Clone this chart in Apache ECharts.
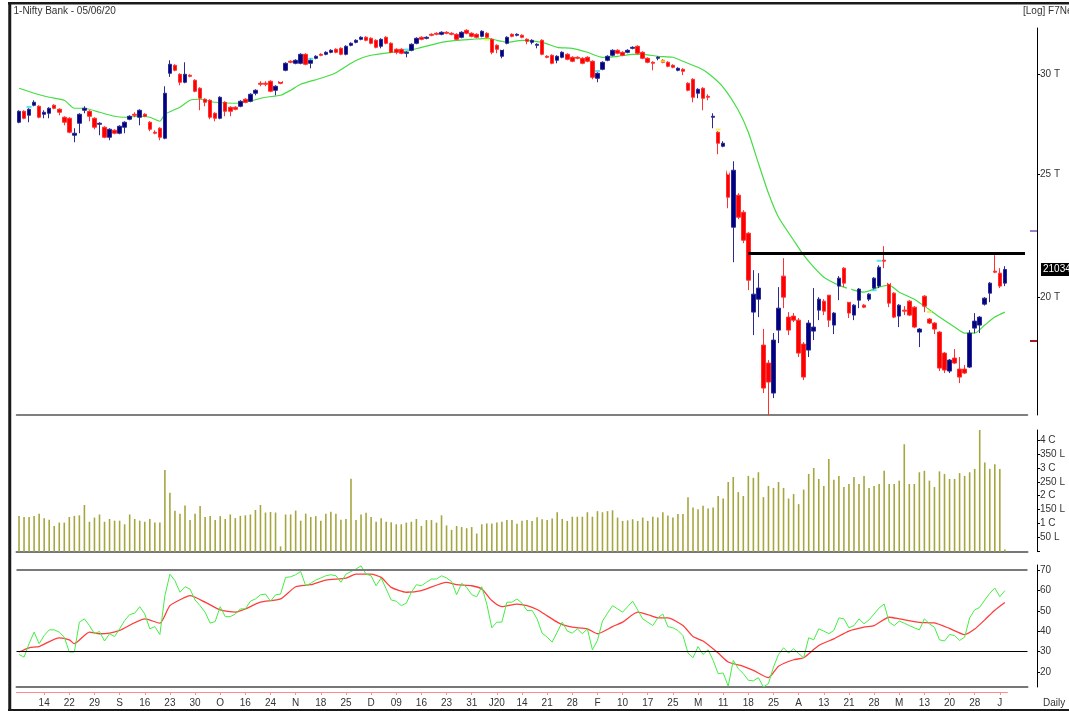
<!DOCTYPE html>
<html>
<head>
<meta charset="utf-8">
<script src="https://cdn.jsdelivr.net/npm/echarts@6/dist/echarts.min.js"></script>
<style>
  html, body { margin: 0; padding: 0; background: #fff; }
  #chart { width: 1069px; height: 711px; }
</style>
</head>
<body>
<div id="chart"></div>
<script>
// daily bars, Aug 2019 .. 05 Jun 2020
const open = [
  27493, 28048, 27845, 28356, 28304, 27895, 27946, 28356, 28150, 27744,
  27693, 26851, 27443, 28099, 28048, 27693, 27393, 27244, 26753, 27096,
  26949, 27244, 27643, 27895, 27744, 27895, 27493, 26998, 27195, 26705,
  30055, 30495, 30000, 29567, 29946, 29675, 29246, 28667, 28615, 27946,
  27693, 28511, 28253, 28253, 28304, 28667, 28563, 28982, 29513, 29513,
  29621, 29140, 29621, 30219, 30718, 30606, 30606, 31111, 30606, 30886,
  31111, 31111, 31224, 31395, 31452, 31111, 31624, 31797, 31971, 32088,
  32029, 31913, 31567, 32088, 31739, 31395, 31395, 31168, 31338, 31739,
  32088, 32029, 32263, 32322, 32263, 32381, 32322, 32263, 32088, 32499,
  32322, 32263, 32146, 32322, 31971, 31624, 30998, 31739, 32263, 32205,
  32205, 31971, 31797, 31624, 31913, 30998, 31055, 30774, 30942, 31111,
  30942, 30942, 30886, 30942, 30718, 29783, 30274, 30774, 31055, 31338,
  31224, 31224, 31452, 31567, 31224, 30886, 30662, 30886, 30774, 30662,
  30495, 30219, 30274, 29513, 29729, 28982, 29246, 28824, 27744, 26998,
  26319, 25195, 22715, 24076, 23343, 22468, 19464, 19928, 18331, 17741,
  16799, 18837, 20780, 19288, 19323, 19182, 18364, 18165, 18803, 19534,
  19856, 20073, 19010, 20407, 21084, 19820, 19358, 19892, 19712, 19928,
  20333, 20407, 21392, 20518, 20147, 19323, 19534, 19856, 19641, 18769,
  20037, 19218, 19079, 18769, 18066, 17485, 17903, 17548, 17548, 17612,
  18906, 19010, 19748, 20147, 20969, 20893, 20518
];
const close = [
  28048, 27693, 28150, 28511, 27744, 27997, 28202, 28202, 27997, 27493,
  26998, 26949, 27895, 28202, 27794, 27244, 27443, 26753, 27145, 26949,
  27294, 27493, 27794, 27845, 28099, 27794, 27145, 26949, 26753, 28982,
  30551, 30219, 29567, 30000, 29891, 29087, 28719, 28511, 27744, 27693,
  28771, 28048, 28048, 28150, 28563, 28511, 28929, 29140, 29460, 29460,
  29087, 29353, 29513, 30606, 30662, 30774, 31111, 30551, 30774, 30998,
  31055, 31224, 31338, 31224, 31111, 31567, 31739, 31913, 32088, 31913,
  31739, 31509, 31971, 31739, 31224, 31224, 31168, 31224, 31682, 32029,
  31971, 32088, 32205, 32263, 32381, 32322, 32263, 31971, 32381, 32322,
  32146, 32088, 32440, 32088, 31224, 31395, 31395, 32088, 32146, 32263,
  32088, 31855, 31913, 31682, 31111, 30942, 30606, 30998, 31224, 30830,
  30718, 30886, 30606, 30718, 29837, 30055, 30662, 30998, 31338, 31168,
  31055, 31338, 31509, 31168, 30886, 30662, 30606, 30942, 30662, 30440,
  30384, 30329, 30164, 29140, 28771, 29193, 28719, 28771, 27794, 26463,
  26463, 23988, 25195, 23131, 22184, 20629, 20110, 20333, 16952, 17138,
  18498, 19605, 20000, 18837, 19182, 18066, 17295, 19079, 18941, 19928,
  19499, 19182, 19429, 20705, 20518, 19429, 19712, 20296, 19641, 20110,
  20705, 21122, 21353, 19784, 19288, 19712, 19499, 19358, 18941, 18872,
  19677, 19079, 18872, 17580, 17517, 17838, 17741, 17295, 17422, 18735,
  19148, 19288, 19964, 20518, 20931, 20407, 21034
];
const high = [
  28099, 28099, 28202, 28615, 28356, 28099, 28253, 28407, 28202, 27794,
  27744, 27195, 27946, 28304, 28099, 27744, 27493, 27294, 27195, 27145,
  27343, 27543, 27845, 27997, 28150, 27946, 27543, 27096, 27244, 29353,
  30774, 30551, 30055, 30662, 30000, 29729, 29299, 28719, 28667, 27997,
  28824, 28563, 28304, 28304, 28615, 28719, 28982, 29193, 29621, 29621,
  29675, 29406, 29675, 30662, 30774, 30830, 31168, 31168, 30886, 31055,
  31168, 31281, 31395, 31452, 31509, 31624, 31797, 31971, 32146, 32146,
  32088, 31971, 32029, 32146, 31797, 31452, 31452, 31281, 31739, 32088,
  32146, 32146, 32322, 32381, 32440, 32440, 32381, 32322, 32440, 32558,
  32381, 32322, 32499, 32381, 32029, 31682, 31452, 32146, 32322, 32322,
  32263, 32029, 31971, 31739, 31971, 31055, 31111, 31055, 31281, 31168,
  30998, 30998, 30942, 30998, 30774, 30109, 30718, 31055, 31395, 31395,
  31281, 31395, 31567, 31624, 31281, 30942, 30718, 30998, 30830, 30718,
  30551, 30384, 30329, 29567, 29783, 29246, 29299, 28929, 27946, 27047,
  26559, 25287, 25611, 24163, 23428, 22509, 21007, 20893, 18906, 17838,
  18735, 20370, 21470, 19464, 19429, 19253, 18431, 19182, 20333, 20000,
  19928, 20073, 19464, 20780, 21122, 19892, 19748, 20333, 19748, 20147,
  20741, 21198, 21944, 20555, 20183, 19748, 19677, 19892, 19677, 18906,
  20073, 19253, 19113, 18803, 18099, 17871, 18198, 17936, 17677, 18837,
  19429, 19323, 20000, 20555, 21587, 21084, 21160
];
const low = [
  27443, 27643, 27493, 28304, 27693, 27693, 27693, 28150, 27845, 27343,
  26949, 26511, 26949, 27946, 27543, 27145, 26851, 26705, 26608, 26900,
  26900, 26949, 27593, 27744, 27343, 27744, 27047, 26900, 26608, 26656,
  29783, 30164, 29406, 29513, 29837, 29034, 28099, 28304, 27643, 27543,
  27643, 27794, 27794, 28099, 28253, 28459, 28511, 28876, 29353, 29353,
  29034, 28876, 29460, 30164, 30606, 30551, 30551, 30495, 30329, 30830,
  30998, 31055, 31168, 31168, 31055, 31055, 31567, 31739, 31913, 31855,
  31682, 31452, 31452, 31682, 31168, 31111, 31111, 30942, 31281, 31682,
  31913, 31971, 32146, 32205, 32205, 32263, 32205, 31913, 32029, 32263,
  32088, 32029, 32088, 32029, 31111, 31168, 30886, 31682, 32088, 32146,
  32029, 31682, 31682, 31452, 31055, 30886, 30551, 30606, 30886, 30774,
  30662, 30830, 30551, 30662, 29729, 29567, 30219, 30718, 30998, 31111,
  30998, 31168, 31395, 31111, 30830, 30606, 30219, 30774, 30606, 30384,
  30329, 30164, 29946, 29087, 28511, 28719, 28099, 28615, 27195, 25938,
  26271, 23513, 21314, 23047, 22066, 20257, 18667, 19288, 16799, 16142,
  16647, 18397, 19605, 18667, 19113, 17936, 17201, 17936, 18498, 19182,
  19358, 18941, 18701, 19892, 20370, 19253, 19182, 19605, 19605, 19856,
  20257, 20333, 21084, 19641, 19253, 18941, 19358, 19323, 18906, 18264,
  19464, 19044, 18701, 17485, 17422, 17422, 17709, 17107, 17390, 17580,
  18735, 18735, 19605, 19820, 20893, 20333, 20407
];
// volume in lakh shares
const volume = [
  128, 124, 124, 128, 136, 120, 114, 92, 104, 104,
  124, 128, 130, 167, 107, 122, 133, 107, 117, 111,
  111, 98, 133, 117, 111, 107, 117, 104, 104, 292,
  211, 146, 136, 165, 113, 136, 163, 124, 128, 113,
  127, 117, 133, 120, 128, 130, 133, 149, 167, 140,
  142, 140, 19, 133, 133, 147, 111, 136, 124, 127,
  111, 136, 143, 136, 114, 117, 261, 113, 133, 139,
  124, 107, 120, 107, 105, 98, 98, 104, 107, 117,
  92, 113, 113, 104, 130, 94, 78, 92, 88, 84,
  88, 65, 98, 101, 101, 104, 107, 113, 113, 100,
  111, 113, 110, 123, 116, 113, 119, 141, 117, 110,
  125, 125, 125, 141, 125, 145, 141, 145, 148, 122,
  110, 112, 116, 110, 122, 110, 125, 122, 141, 129,
  122, 135, 135, 195, 158, 152, 164, 154, 158, 199,
  190, 249, 267, 213, 199, 271, 264, 284, 195, 235,
  228, 249, 228, 190, 206, 170, 222, 278, 299, 260,
  235, 331, 257, 271, 231, 242, 267, 242, 271, 228,
  235, 242, 289, 242, 242, 254, 384, 242, 242, 284,
  289, 254, 231, 287, 278, 260, 260, 281, 271, 284,
  296, 435, 319, 296, 313, 296, 8
];
const rsi = [
  28.5, 27.2, 33.8, 39.5, 33.8, 37.8, 40.6, 40.6, 39.5, 37.0,
  29.7, 29.7, 44.4, 46.0, 42.7, 38.7, 39.8, 35.1, 38.7, 37.3,
  41.1, 45.2, 48.1, 48.8, 52.0, 48.4, 41.1, 42.2, 38.3, 57.4,
  68.0, 64.8, 59.1, 61.8, 60.7, 55.3, 52.5, 49.3, 43.9, 44.7,
  52.0, 47.1, 47.1, 48.4, 50.9, 50.9, 54.7, 55.8, 57.8, 58.2,
  54.7, 57.8, 58.2, 66.4, 66.7, 67.7, 69.3, 62.3, 63.5, 65.1,
  66.1, 67.2, 67.7, 67.2, 64.0, 68.0, 69.3, 70.5, 72.1, 68.0,
  67.2, 62.3, 66.1, 60.7, 55.3, 54.7, 52.5, 53.7, 59.1, 62.8,
  62.3, 64.0, 65.6, 65.6, 67.2, 66.1, 64.4, 57.9, 63.5, 61.5,
  57.9, 56.9, 61.8, 53.3, 41.6, 44.4, 44.4, 54.2, 54.2, 55.8,
  53.7, 50.1, 50.2, 46.0, 39.0, 37.0, 34.6, 39.5, 44.4, 40.0,
  39.0, 41.1, 38.7, 41.1, 30.8, 35.4, 44.9, 48.8, 52.5, 50.9,
  49.3, 52.0, 54.7, 50.4, 46.0, 44.4, 42.7, 46.5, 48.4, 42.2,
  41.6, 40.3, 37.8, 29.2, 26.9, 32.4, 28.5, 30.8, 25.6, 19.1,
  19.4, 12.9, 25.6, 21.5, 19.1, 15.8, 15.5, 17.1, 12.5, 14.2,
  22.3, 28.5, 31.8, 29.2, 31.3, 28.9, 26.9, 36.7, 35.7, 41.1,
  40.0, 38.7, 40.3, 46.5, 46.0, 41.6, 42.7, 46.0, 43.6, 45.5,
  48.4, 51.4, 53.3, 44.4, 42.7, 44.9, 43.9, 42.7, 41.6, 40.6,
  46.0, 43.6, 41.9, 35.7, 35.1, 38.3, 37.8, 35.4, 37.0, 46.5,
  50.4, 51.7, 55.3, 58.6, 61.2, 56.9, 59.9
];
// [bar index, value] points
const movingAvg = [
  [0, 29246], [3, 28982], [6, 28771], [9, 28615], [11, 28202], [13, 28202],
  [16, 27997], [19, 27794], [21, 27744], [24, 27794], [26, 27744], [28, 27543],
  [29, 27895], [32, 28253], [34, 28615], [36, 28667], [39, 28511], [43, 28459],
  [45, 28511], [49, 28771], [52, 28876], [54, 29140], [56, 29460], [60, 29783],
  [63, 30080], [66, 30606], [68, 30886], [70, 31055], [74, 31224], [77, 31281],
  [80, 31509], [84, 31797], [87, 31913], [90, 31971], [93, 32029], [95, 31913],
  [97, 31797], [100, 31913], [104, 31797], [107, 31509], [110, 31452], [113, 31224],
  [116, 30942], [119, 30998], [122, 31111], [124, 31111], [127, 30998], [130, 30942],
  [132, 30718], [135, 30384], [137, 30055], [140, 29299], [143, 28100], [145, 26998],
  [147, 25518], [149, 24163], [151, 23131], [154, 22184], [156, 21587], [158, 21122],
  [160, 20741], [163, 20444], [166, 20257], [168, 20183], [171, 20370], [173, 20444],
  [175, 20183], [178, 19928], [180, 19677], [183, 19288], [186, 18941], [188, 18735],
  [190, 18735], [192, 19010], [194, 19288], [196, 19464]
];
const rsiSignal = [
  [0, 29.7], [2, 31.8], [4, 32.4], [8, 36.7], [10, 35.7], [11, 33.8], [14, 39.5],
  [16, 38.7], [18, 39.0], [20, 40.3], [25, 46.0], [28, 43.9], [30, 52.5], [33, 56.6],
  [34, 57.4], [37, 54.2], [40, 50.4], [43, 49.3], [45, 50.9], [48, 54.2], [52, 55.8],
  [55, 61.8], [58, 62.8], [61, 65.1], [65, 66.1], [67, 68.0], [70, 68.0], [72, 66.4],
  [74, 61.5], [77, 59.1], [80, 59.9], [85, 64.0], [87, 62.8], [90, 62.3], [92, 60.7],
  [94, 55.0], [96, 52.0], [99, 53.3], [101, 52.5], [103, 50.6], [105, 47.5], [107, 44.4],
  [108, 43.2], [110, 41.9], [113, 41.1], [115, 38.7], [118, 42.2], [120, 44.4], [123, 49.3],
  [125, 48.1], [127, 46.5], [129, 46.5], [132, 42.7], [134, 37.3], [136, 35.1], [139, 29.2],
  [141, 24.8], [144, 22.7], [146, 20.7], [149, 17.1], [151, 22.7], [154, 25.9], [156, 26.9],
  [159, 32.9], [162, 36.2], [165, 40.0], [168, 41.9], [170, 42.7], [173, 46.8], [175, 46.0],
  [179, 44.3], [182, 44.0], [185, 41.3], [188, 38.3], [190, 41.0], [192, 45.5], [194, 50.3],
  [196, 54.1]
];
const tickLabels = ['14', '22', '29', 'S', '16', '23', '30', 'O', '16', '24', 'N', '18', '25',
  'D', '09', '16', '23', '31', 'J20', '14', '21', '28', 'F', '10', '17', '25', 'M', '11',
  '18', '25', 'A', '13', '21', '28', 'M', '13', '20', '28', 'J'];
// pattern markers: [bar index, price, width, height]
const cyanRings = [[30, 29640, 4, 6], [52, 29800, 4, 6], [96, 31585, 4, 6], [162, 19650, 4, 7],
  [180, 19190, 4, 10], [192, 19530, 4, 7], [194, 20730, 3, 5]];
const cyanDashes = [[2, 28270, 5, 2], [58, 30860, 5, 2], [77, 31380, 5, 2], [115, 30180, 5, 2],
  [170, 20257, 5, 2], [171, 21370, 5, 2]];
const yellowRings = [[132, 29710, 3, 6], [138, 28300, 3, 7], [141, 25600, 4, 22], [148, 19070, 3, 8],
  [165, 20140, 4, 14], [173, 20970, 4, 22]];
const yellowDashes = [[93, 31950, 5, 2], [128, 30720, 5, 2], [139, 27130, 5, 2], [181, 19470, 5, 2]];

const priceTicks = [20000, 25000, 30000];
const volumeTicks = [50, 100, 150, 200, 250, 300, 350, 400];
const rsiTicks = [20, 30, 40, 50, 60, 70];
const resistance = { from: 145, level: 21680 };
const axisMarks = [{ level: 22550, color: '#a27cc8' }, { level: 18460, color: '#a02020' }];

const FONT = 'Liberation Sans';
const TXT = '#333';
const nBars = close.length;
const nSlots = nBars + 4; // empty room right of the last bar
const slots = Array.from({ length: nSlots }, (_, i) => String(i));
const barCats = slots.slice(0, nBars);
const lastClose = close[nBars - 1];

const candles = open.map((o, i) => [o, close[i], low[i], high[i]]);

const G = { left: 16.5, right: 41.5, outerBoundsMode: 'none' };
const labelEvery = (i) => i >= 5 && (i - 5) % 5 === 0;

const chart = echarts.init(document.getElementById('chart'), null, { renderer: 'canvas' });

const hiddenX = (gridIndex, line) => ({
  type: 'category', gridIndex, data: slots, boundaryGap: true,
  axisLine: line ? { show: true, lineStyle: line } : { show: false },
  axisTick: { show: false }, axisLabel: { show: false }, splitLine: { show: false }
});

const priceAxisBase = {
  type: 'log', gridIndex: 0, position: 'right', offset: 9.5,
  min: 16142, max: 32635, logBase: 10, splitLine: { show: false }
};

const ringSeries = (data, color) => ({
  type: 'scatter', xAxisIndex: 0, yAxisIndex: 0, data, silent: true, z: 4,
  symbol: 'emptyCircle', symbolSize: (v) => [v[2], v[3]],
  itemStyle: { color: '#fff', borderColor: color, borderWidth: 1, opacity: 1 }
});
const dashSeries = (data, color) => ({
  type: 'scatter', xAxisIndex: 0, yAxisIndex: 0, data, silent: true, z: 4,
  symbol: 'rect', symbolSize: (v) => [v[2], v[3]],
  itemStyle: { color }
});

chart.setOption({
  animation: false,
  backgroundColor: '#fff',
  textStyle: { fontFamily: FONT },
  grid: [
    Object.assign({ top: 28, height: 387 }, G),
    Object.assign({ top: 430, height: 121.7 }, G),
    Object.assign({ top: 565, height: 122 }, G),
    { left: G.left, width: nBars * (1011 / nSlots), top: 691, height: 1, outerBoundsMode: 'none' }
  ],
  xAxis: [
    hiddenX(0, { color: '#555', width: 1.5 }),
    hiddenX(1, { color: '#777', width: 2 }),
    hiddenX(2, { color: '#777', width: 2 }),
    {
      type: 'category', gridIndex: 3, data: barCats, boundaryGap: true,
      axisLine: { show: true, lineStyle: { color: '#ff8c8c', width: 1 } },
      axisTick: { show: true, interval: labelEvery, alignWithLabel: true, length: 3,
        lineStyle: { color: '#ff8c8c' } },
      axisLabel: {
        show: true, interval: labelEvery, margin: 6, color: TXT, fontSize: 10, fontFamily: FONT,
        formatter: (v, i) => tickLabels[(i - 5) / 5] || ''
      },
      splitLine: { show: false }
    }
  ],
  yAxis: [
    Object.assign({}, priceAxisBase, {
      axisLine: { show: true, lineStyle: { color: '#000', width: 1 } },
      axisTick: { show: true, length: 3, customValues: priceTicks, lineStyle: { color: '#000' } },
      axisLabel: { show: true, customValues: priceTicks, margin: 3, color: TXT, fontSize: 10,
        fontFamily: FONT, formatter: (v) => Math.round(v / 1000) + ' T' }
    }),
    Object.assign({}, priceAxisBase, {
      axisLine: { show: false }, axisTick: { show: false },
      axisLabel: { show: true, customValues: [lastClose], margin: 4, color: '#fff',
        backgroundColor: '#000', padding: [2, 2, 1, 2], fontSize: 10, fontFamily: FONT,
        formatter: () => String(lastClose) }
    }),
    ...axisMarks.map((m) => Object.assign({}, priceAxisBase, {
      axisLine: { show: false }, axisLabel: { show: false },
      axisTick: { show: true, inside: true, length: 7, customValues: [m.level],
        lineStyle: { color: m.color, width: 2 } }
    })),
    {
      type: 'value', gridIndex: 1, position: 'right', offset: 9.5, min: 0, max: 435,
      splitLine: { show: false },
      axisLine: { show: true, lineStyle: { color: '#000', width: 1 } },
      axisTick: { show: true, length: 3, customValues: [0].concat(volumeTicks), lineStyle: { color: '#000' } },
      axisLabel: { show: true, customValues: volumeTicks, margin: 3, color: TXT, fontSize: 10,
        fontFamily: FONT, formatter: (v) => (v % 100 === 0 ? v / 100 + ' C' : v + ' L') }
    },
    {
      type: 'value', gridIndex: 2, position: 'right', offset: 9.5, min: 12.5, max: 72.5,
      splitLine: { show: false },
      axisLine: { show: true, lineStyle: { color: '#000', width: 1 } },
      axisTick: { show: true, length: 3, customValues: rsiTicks, lineStyle: { color: '#000' } },
      axisLabel: { show: true, customValues: rsiTicks, margin: 3, color: TXT, fontSize: 10, fontFamily: FONT }
    },
    { type: 'value', gridIndex: 3, show: false }
  ],
  series: [
    {
      name: 'Nifty Bank', type: 'candlestick', xAxisIndex: 0, yAxisIndex: 0,
      data: candles, barWidth: 4, z: 3,
      itemStyle: { color: '#000080', color0: '#ff0000', borderColor: '#2a2a90',
        borderColor0: '#ff3030', borderWidth: 1 },
      markLine: {
        silent: true, symbol: ['none', 'none'], label: { show: false },
        lineStyle: { color: '#000', width: 3, type: 'solid' },
        data: [[{ coord: [resistance.from, resistance.level] }, { coord: [nSlots - 1, resistance.level] }]]
      }
    },
    {
      name: 'MA', type: 'line', xAxisIndex: 0, yAxisIndex: 0, data: movingAvg,
      showSymbol: false, smooth: 0.2, z: 2, lineStyle: { color: '#44dd44', width: 1.2 }
    },
    ringSeries(cyanRings, '#33ddee'),
    dashSeries(cyanDashes, '#33ddee'),
    ringSeries(yellowRings, '#eeee33'),
    dashSeries(yellowDashes, '#eeee33'),
    {
      name: 'Volume', type: 'bar', xAxisIndex: 1, yAxisIndex: 4, data: volume,
      barWidth: 1.6, itemStyle: { color: '#a6a640' }
    },
    {
      name: 'RSI', type: 'line', xAxisIndex: 2, yAxisIndex: 5, data: rsi,
      showSymbol: false, z: 3, lineStyle: { color: '#44ee44', width: 1 },
      markLine: {
        silent: true, symbol: ['none', 'none'], label: { show: false },
        data: [
          { yAxis: 70, lineStyle: { color: '#7a7a7a', width: 2, type: 'solid' } },
          { yAxis: 30, lineStyle: { color: '#000', width: 1, type: 'solid' } }
        ]
      }
    },
    {
      name: 'Signal', type: 'line', xAxisIndex: 2, yAxisIndex: 5, data: rsiSignal,
      showSymbol: false, smooth: 0.2, z: 2, lineStyle: { color: '#ff3c3c', width: 1.3 }
    }
  ],
  graphic: [
    { type: 'line', silent: true, shape: { x1: 9.75, y1: 2, x2: 9.75, y2: 711 }, style: { stroke: '#1a1a1a', lineWidth: 3 } },
    { type: 'line', silent: true, shape: { x1: 8, y1: 3.25, x2: 1069, y2: 3.25 }, style: { stroke: '#1a1a1a', lineWidth: 2.5 } },
    { type: 'line', silent: true, shape: { x1: 8, y1: 710, x2: 1069, y2: 710 }, style: { stroke: '#1a1a1a', lineWidth: 2 } },
    { type: 'text', silent: true, left: 13.5, top: 6, style: { text: '1-Nifty Bank - 05/06/20', fill: TXT, font: '10px ' + FONT } },
    { type: 'text', silent: true, left: 1023, top: 6, style: { text: '[Log] F7News', fill: TXT, font: '10px ' + FONT } },
    { type: 'text', silent: true, left: 1043, top: 698, style: { text: 'Daily', fill: TXT, font: '10px ' + FONT } }
  ]
});
</script>
</body>
</html>
